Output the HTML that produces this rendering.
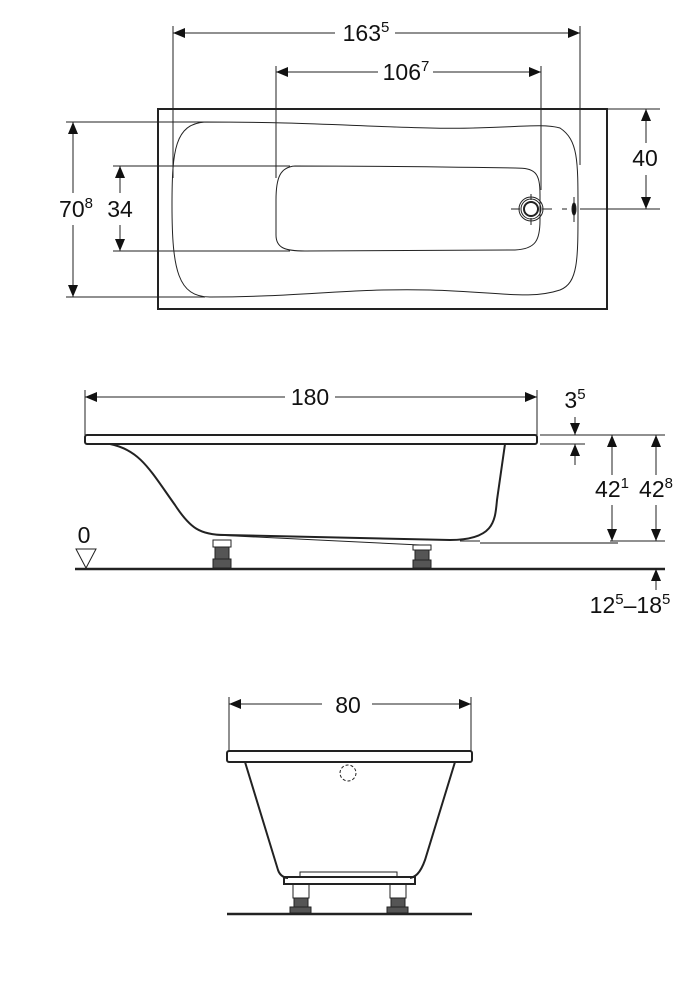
<!DOCTYPE html>
<html><head><meta charset="utf-8"><style>
html,body{margin:0;padding:0;background:#fff}
svg{display:block}
text{font-family:"Liberation Sans",Arial,sans-serif;font-size:23px;fill:#111;text-anchor:middle}
.s{font-size:15px}
</style></head><body>
<svg width="700" height="1000" viewBox="0 0 700 1000" xmlns="http://www.w3.org/2000/svg">
<defs>
<marker id="a" viewBox="0 0 12 10" refX="12" refY="5" markerWidth="13" markerHeight="10" markerUnits="userSpaceOnUse" orient="auto-start-reverse"><path d="M0,0L12,5L0,10z" fill="#111"/></marker>
</defs>
<g stroke="#222" fill="none" stroke-width="1">
<!-- TOP VIEW -->
<rect x="158" y="109" width="449" height="200" stroke-width="2"/>
<path d="M205,122 C175,124 172,150 172,205 C172,270 178,297 210,297 C300,297 350,288 430,290 C500,292 530,300 560,290 C578,283 578,260 578,210 C578,160 578,140 560,128 C540,122 500,130 430,128 C350,126 300,122 205,122Z"/>
<path d="M295,166 C280,167 276,178 276,200 L276,235 C276,248 285,251 305,251 L515,250 C536,249 540,240 540,220 L540,195 C540,172 535,168 515,168 C450,167 380,166 295,166Z"/>
<circle cx="531" cy="209" r="7" stroke-width="2"/>
<circle cx="531" cy="209" r="10"/>
<circle cx="531" cy="209" r="12"/>
<path d="M511,209H520M542,209H552M531,194V200M531,218V225M562,209H567M580,209H660M574,197V222"/>
<ellipse cx="574" cy="209" rx="2" ry="6" fill="#111"/>
<!-- top dims -->
<path d="M173,26V178M580,26V165M276,66V178M541,66V190"/>
<path d="M173,33H335M395,33H580" marker-start="url(#a)" marker-end="url(#a)"/>
<path d="M276,72H378M433,72H541" marker-start="url(#a)" marker-end="url(#a)"/>
<path d="M607,109H660M600,209H660"/>
<path d="M646,109V143M646,175V209" marker-start="url(#a)" marker-end="url(#a)"/>
<path d="M66,122H205M66,297H205"/>
<path d="M73,122V193M73,225V297" marker-start="url(#a)" marker-end="url(#a)"/>
<path d="M113,166H290M113,251H290"/>
<path d="M120,166V193M120,225V251" marker-start="url(#a)" marker-end="url(#a)"/>
<!-- SIDE VIEW -->
<rect x="85" y="435" width="452" height="9" rx="2" stroke-width="2"/>
<path d="M110,444 C140,450 150,470 175,505 C190,528 200,535 225,535 L450,540 C495,540 495,520 497,500 L505,444" stroke-width="2"/>
<path d="M215,535 L420,545 M460,541 H480" />
<path d="M480,543H618" stroke="#888" stroke-width="2"/>
<g fill="#555"><rect x="213" y="540" width="18" height="7" fill="none"/><rect x="215" y="547" width="14" height="12"/><rect x="213" y="559" width="18" height="9"/>
<rect x="413" y="545" width="18" height="5" fill="none"/><rect x="415" y="550" width="14" height="10"/><rect x="413" y="560" width="18" height="8"/></g>
<path d="M85,390V435M537,390V435"/>
<path d="M85,397H285M335,397H537" marker-start="url(#a)" marker-end="url(#a)"/>
<path d="M540,435H665M540,444H585"/>
<path d="M575,417V435" marker-end="url(#a)"/>
<path d="M575,465V444" marker-end="url(#a)"/>
<path d="M612,435V475M612,505V541" marker-start="url(#a)" marker-end="url(#a)"/>
<path d="M656,435V475M656,505V541" marker-start="url(#a)" marker-end="url(#a)"/>
<path d="M610,541H665"/>
<path d="M75,569H665" stroke-width="2.5"/>
<path d="M656,590V569" marker-end="url(#a)"/>
<path d="M76,549H96L86,568Z"/>
<!-- FRONT VIEW -->
<rect x="227" y="751" width="245" height="11" rx="2" stroke-width="2"/>
<path d="M245,762 L278,870 C280,876 285,878 288,878 M455,762 L425,860 C420,874 415,877 410,878" stroke-width="2"/>
<rect x="284" y="877" width="131" height="7" stroke-width="2"/>
<rect x="300" y="872" width="97" height="5"/>
<circle cx="348" cy="773" r="8" stroke-dasharray="3,2"/>
<g fill="#555"><rect x="293" y="884" width="16" height="14" fill="none"/><rect x="294" y="898" width="14" height="9"/><rect x="290" y="907" width="21" height="6"/>
<rect x="390" y="884" width="16" height="14" fill="none"/><rect x="391" y="898" width="14" height="9"/><rect x="387" y="907" width="21" height="6"/></g>
<path d="M227,914H472" stroke-width="2.5"/>
<path d="M229,697V751M471,697V751"/>
<path d="M229,704H322M372,704H471" marker-start="url(#a)" marker-end="url(#a)"/>
</g>
<text x="366" y="41">163<tspan class="s" dy="-9">5</tspan></text>
<text x="406" y="80">106<tspan class="s" dy="-9">7</tspan></text>
<text x="645" y="166">40</text>
<text x="76" y="217">70<tspan class="s" dy="-9">8</tspan></text>
<text x="120" y="217">34</text>
<text x="310" y="405">180</text>
<text x="575" y="408">3<tspan class="s" dy="-9">5</tspan></text>
<text x="612" y="497">42<tspan class="s" dy="-9">1</tspan></text>
<text x="656" y="497">42<tspan class="s" dy="-9">8</tspan></text>
<text x="84" y="543">0</text>
<text x="630" y="613">12<tspan class="s" dy="-9">5</tspan><tspan dy="9">–18</tspan><tspan class="s" dy="-9">5</tspan></text>
<text x="348" y="713">80</text>
</svg>
</body></html>
